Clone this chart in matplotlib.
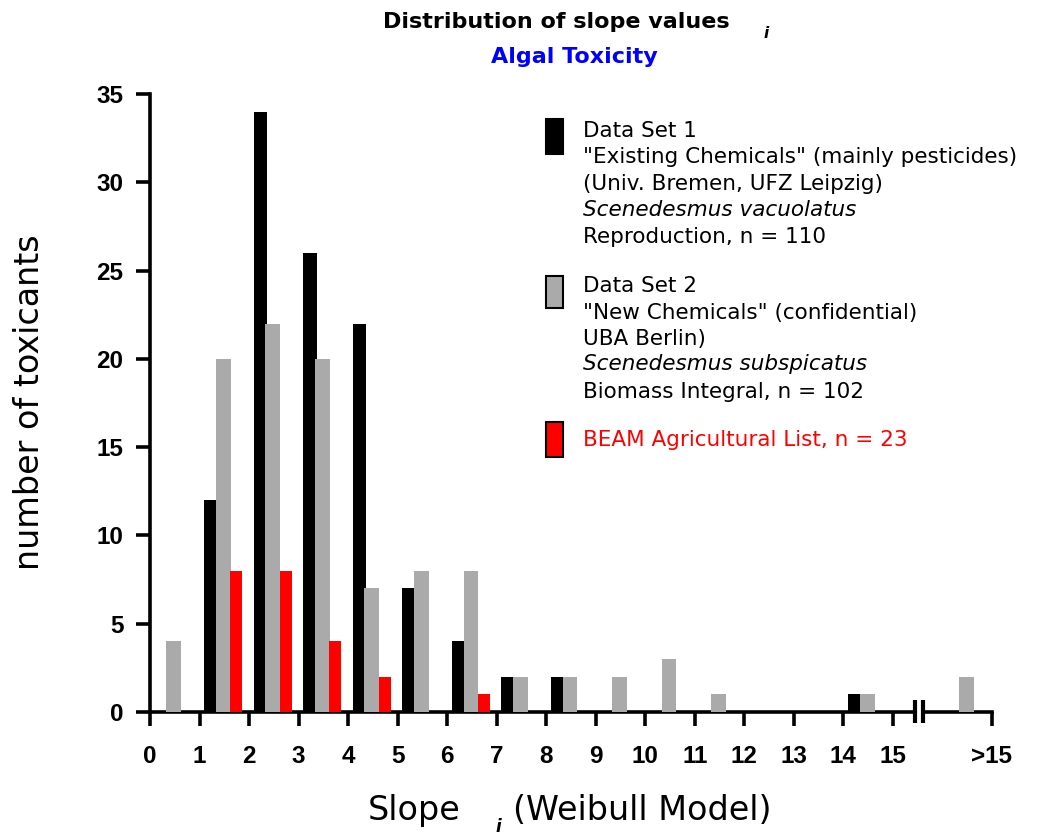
import matplotlib
matplotlib.use('Agg')
import matplotlib.pyplot as plt
from matplotlib.patches import Rectangle

# bins of the slope value: lower edges, the last bin is ">15"
bin_left = [0, 1, 2, 3, 4, 5, 6, 7, 8, 9, 10, 11, 12, 13, 14, 16]
tick_pos = [0, 1, 2, 3, 4, 5, 6, 7, 8, 9, 10, 11, 12, 13, 14, 15, 17]
tick_labels = ['0', '1', '2', '3', '4', '5', '6', '7', '8', '9', '10',
               '11', '12', '13', '14', '15', '>15']

set1 = [0, 12, 34, 26, 22, 7, 4, 2, 2, 0, 0, 0, 0, 0, 1, 0]    # n = 110
set2 = [4, 20, 22, 20, 7, 8, 8, 2, 2, 2, 3, 1, 0, 0, 1, 2]     # n = 102
beam = [0, 8, 8, 4, 2, 0, 1, 0, 0, 0, 0, 0, 0, 0, 0, 0]        # n = 23

W, H = 1044, 840
fig = plt.figure(figsize=(W / 100, H / 100), dpi=100)
ax = fig.add_axes([150 / W, 1 - 712 / H, (992 - 150) / W, (712 - 94) / H])

gray = '#aaaaaa'
ax.bar([b + 0.09 for b in bin_left], set1, width=0.28, align='edge', color='black', zorder=2)
ax.bar([b + 0.33 for b in bin_left], set2, width=0.30, align='edge', color=gray, zorder=3)
ax.bar([b + 0.62 for b in bin_left], beam, width=0.24, align='edge', color='#ff0000', zorder=4)

ax.set_xlim(0, 17)
ax.set_ylim(0, 35)
ax.set_yticks(range(0, 36, 5))
ax.set_xticks(tick_pos)
ax.set_xticklabels(tick_labels)

for s in ['top', 'right']:
    ax.spines[s].set_visible(False)
for s in ['left', 'bottom']:
    ax.spines[s].set_linewidth(2.6)

ax.tick_params(axis='both', length=10, width=2.6, labelsize=17.5)
ax.tick_params(axis='x', pad=14)
ax.tick_params(axis='y', pad=9)
for lab in ax.get_xticklabels() + ax.get_yticklabels():
    lab.set_fontfamily('Liberation Sans')
    lab.set_fontweight('bold')

# axis break between 15 and >15
ax.add_patch(Rectangle((15.49, -0.3), 0.08, 0.6, color='white', clip_on=False, zorder=6))
for xb in [15.445, 15.615]:
    ax.plot([xb, xb], [-0.65, 0.68], color='black', lw=3, clip_on=False, zorder=7,
            solid_capstyle='butt')

# titles and axis labels
fig.text(556 / W, 1 - 22 / H, 'Distribution of slope values', ha='center', va='center',
         fontsize=16, fontweight='bold')
fig.text(766 / W, 1 - 33 / H, 'i', ha='center', va='center', fontsize=11,
         fontweight='bold', style='italic')
fig.text(574 / W, 1 - 57 / H, 'Algal Toxicity', ha='center', va='center',
         fontsize=16, fontweight='bold', color='#0000ff')
fig.text(30 / W, 1 - 402 / H, 'number of toxicants', rotation=90, ha='center',
         va='center', fontsize=24)
fig.text(368 / W, 1 - 820 / H, 'Slope', ha='left', va='baseline', fontsize=24)
fig.text(498 / W, 1 - 827 / H, 'i', ha='center', va='center', fontsize=12,
         fontweight='bold', style='italic')
fig.text(513 / W, 1 - 820 / H, '(Weibull Model)', ha='left', va='baseline', fontsize=24)

# legend
boxes = [(119, 154, 'black'), (276, 308, gray), (422, 457, '#ff0000')]
for top, bot, c in boxes:
    fig.patches.append(Rectangle((546 / W, 1 - bot / H), 17 / W, (bot - top) / H,
                                 transform=fig.transFigure, facecolor=c,
                                 edgecolor='black', lw=1.5))

lines = [
    (131, 'Data Set 1', 'normal', 'black'),
    (157, '"Existing Chemicals" (mainly pesticides)', 'normal', 'black'),
    (184, '(Univ. Bremen, UFZ Leipzig)', 'normal', 'black'),
    (210, 'Scenedesmus vacuolatus', 'italic', 'black'),
    (237, 'Reproduction, n = 110', 'normal', 'black'),
    (286, 'Data Set 2', 'normal', 'black'),
    (313, '"New Chemicals" (confidential)', 'normal', 'black'),
    (339, 'UBA Berlin)', 'normal', 'black'),
    (364, 'Scenedesmus subspicatus', 'italic', 'black'),
    (392, 'Biomass Integral, n = 102', 'normal', 'black'),
    (440, 'BEAM Agricultural List, n = 23', 'normal', '#ff0000'),
]
for y, txt, st, c in lines:
    fig.text(583 / W, 1 - y / H, txt, ha='left', va='center', fontsize=15.5,
             style=st, color=c)

fig.savefig('out.png', dpi=100)
